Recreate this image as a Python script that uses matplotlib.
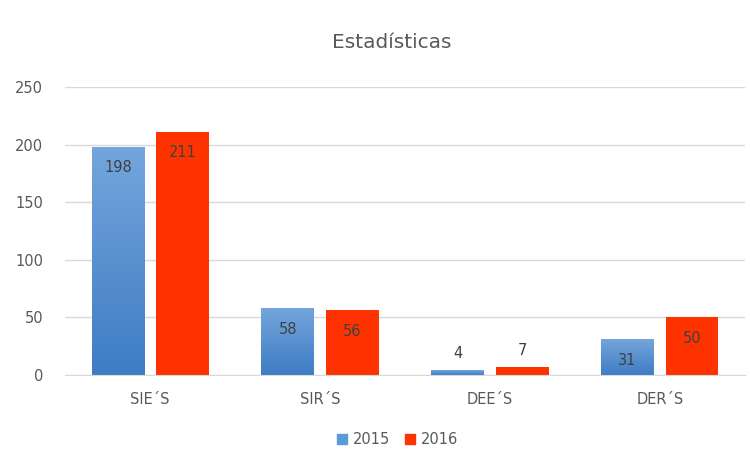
import numpy as np
import matplotlib.pyplot as plt
from matplotlib.patches import Patch
from matplotlib.colors import LinearSegmentedColormap

categories = ['SIE´S', 'SIR´S', 'DEE´S', 'DER´S']
values_2015 = [198, 58, 4, 31]
values_2016 = [211, 56, 7, 50]

blue = '#5b9bd5'
red = '#fe3300'
text_gray = '#595959'

fig = plt.figure(figsize=(7.5, 4.5), dpi=100)
ax = fig.add_axes([0.087, 0.1667, 0.906, 0.64])

x = np.arange(len(categories))
w = 0.31

b1 = ax.bar(x - 0.19, values_2015, w, color=blue, zorder=2)
b2 = ax.bar(x + 0.19, values_2016, w, color=red, zorder=2)

# vertical gradient on the blue bars (lighter on top, darker at base)
grad = np.linspace(0, 1, 256).reshape(-1, 1)
cmap = LinearSegmentedColormap.from_list('b', ['#3e7cc4', '#74a6dc'])
for bar in b1:
    bx, by = bar.get_x(), bar.get_y()
    bw, bh = bar.get_width(), bar.get_height()
    im = ax.imshow(grad, cmap=cmap, origin='lower', aspect='auto',
                   extent=[bx, bx + bw, by, by + bh], zorder=2)
    im.set_clip_path(bar)

# data labels, inside the bar top unless the bar is too short
for bars, vals in [(b1, values_2015), (b2, values_2016)]:
    for bar, v in zip(bars, vals):
        cx = bar.get_x() + bar.get_width() / 2
        dy = -15 if v > 20 else 12
        ax.annotate(str(v), (cx, v), xytext=(0, dy), textcoords='offset points',
                    ha='center', va='center', fontsize=10.5, color='#404040', zorder=3)

ax.set_xlim(-0.5, 3.5)
ax.set_ylim(0, 250)
ax.set_yticks([0, 50, 100, 150, 200, 250])
ax.set_xticks(x)
ax.set_xticklabels(categories)
ax.yaxis.grid(True, color='#d9d9d9', linewidth=1, zorder=0)
ax.set_axisbelow(True)
for s in ['top', 'right', 'left']:
    ax.spines[s].set_visible(False)
ax.spines['bottom'].set_color('#d9d9d9')
ax.tick_params(axis='both', length=0, colors=text_gray, labelsize=10.5)
ax.tick_params(axis='x', pad=12)
ax.tick_params(axis='y', pad=16)

fig.text(0.523, 0.905, 'Estadísticas', ha='center', va='center', fontsize=14.5, color=text_gray)

handles = [Patch(color=blue, label='2015'), Patch(color=red, label='2016')]
fig.legend(handles=handles, loc='center', bbox_to_anchor=(0.53, 0.023), ncol=2, frameon=False,
           fontsize=10.5, labelcolor=text_gray, handlelength=0.7, handleheight=0.7,
           handletextpad=0.4, columnspacing=1.0)

fig.savefig('out.png', dpi=100)
